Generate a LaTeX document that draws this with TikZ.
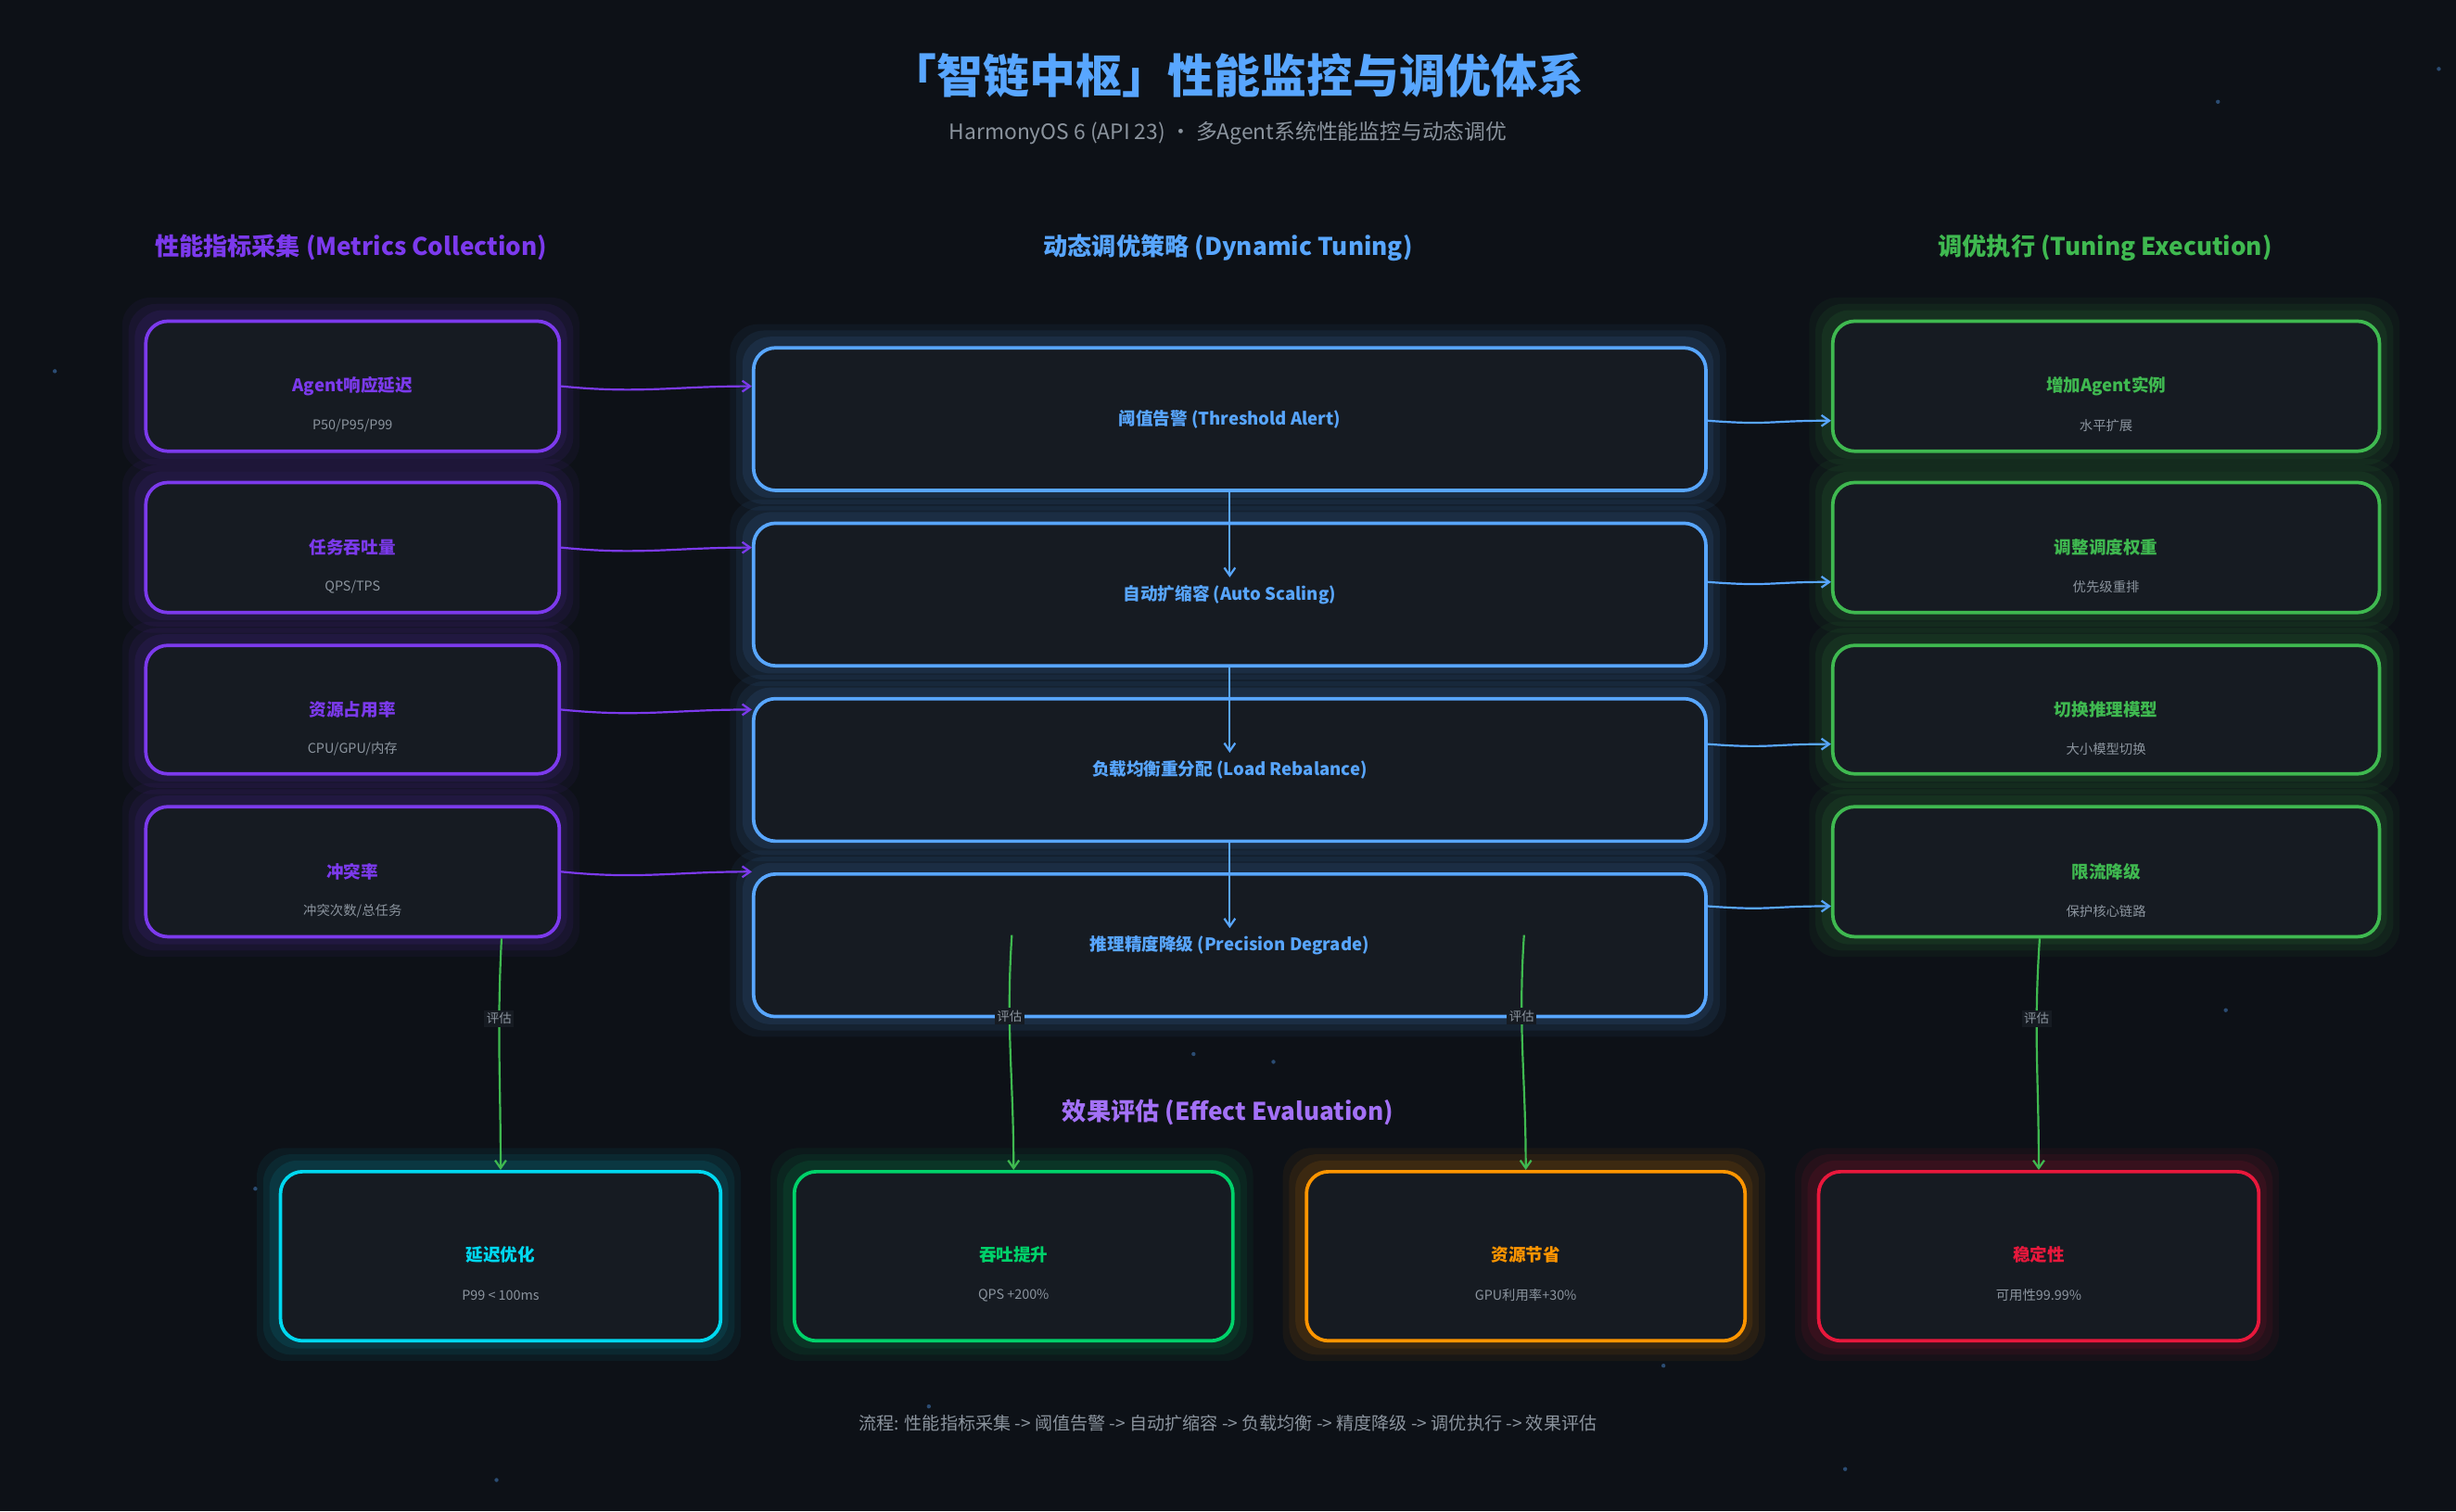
\documentclass[tikz,border=0pt]{standalone}
\usepackage{fontspec}
\setmainfont{Noto Sans CJK SC}
\usetikzlibrary{arrows.meta}
\definecolor{bg}{HTML}{0D1117}
\definecolor{boxbg}{HTML}{161B22}
\definecolor{cpur}{HTML}{7C3AED}
\definecolor{cpurl}{HTML}{A371F7}
\definecolor{cblue}{HTML}{58A6FF}
\definecolor{cgreen}{HTML}{3FB950}
\definecolor{ccyan}{HTML}{00D8F0}
\definecolor{cgr2}{HTML}{00D26A}
\definecolor{corange}{HTML}{FF9500}
\definecolor{cred}{HTML}{E8183C}
\definecolor{cgray}{HTML}{8B949E}
\tikzset{
  card/.style={draw=#1, line width=2.2pt, rounded corners=14pt, fill=boxbg},
  ttl/.style={font=\bfseries\fontsize{11}{13}\selectfont, text=#1},
  sub/.style={font=\fontsize{8.5}{10}\selectfont, text=cgray},
  hdr/.style={font=\bfseries\fontsize{15.5}{18}\selectfont, text=#1},
  arr/.style={draw=#1, line width=1.3pt, -{Straight Barb[length=5pt,width=7pt]}},
  lab/.style={font=\fontsize{8}{9}\selectfont, text=cgray, fill=boxbg, inner sep=1.5pt},
}
\newcommand{\glowbox}[6]{% name, color, x1,y1,x2,y2
  \foreach \o/\op in {14/0.05,10/0.07,6/0.09}{
    \fill[#2, opacity=\op, rounded corners=18pt] (#3-\o,#4-\o) rectangle (#5+\o,#6+\o);}
  \node[card=#2, minimum width=#5-#3, minimum height=#6-#4, anchor=north west, inner sep=0pt] (#1) at (#3,#4) {};
}
\begin{document}
\begin{tikzpicture}[x=1pt,y=-1pt]
\fill[bg] (0,0) rectangle (1568,965);
\useasboundingbox (0,0) rectangle (1568,965);
% stars
\foreach \sx/\sy in {35/237,1416/65,1557/44,685/364,1046/376,1290/233,1398/468,1057/636,762/673,813/678,240/777,163/759,931/802,1328/790,1062/872,593/898,317/945,1178/938,1421/645}{
  \fill[cblue, opacity=0.4] (\sx,\sy) circle (1.3pt);}
% titles
\node[font=\bfseries\fontsize{29.5}{32}\selectfont, text=cblue] (title) at (790,48) {「智链中枢」性能监控与调优体系};
\node[font=\fontsize{13.5}{15}\selectfont, text=cgray] (subt) at (784,85) {HarmonyOS 6 (API 23) · 多Agent系统性能监控与动态调优};
\node[hdr=cpur] (h1) at (224,158) {性能指标采集 (Metrics Collection)};
\node[hdr=cblue] (h2) at (784,158) {动态调优策略 (Dynamic Tuning)};
\node[hdr=cgreen] (h3) at (1344,158) {调优执行 (Tuning Execution)};
\node[hdr=cpurl] (h4) at (784,710) {效果评估 (Effect Evaluation)};
\node[font=\fontsize{11.3}{13}\selectfont, text=cgray] (foot) at (784,909) {流程: 性能指标采集 -> 阈值告警 -> 自动扩缩容 -> 负载均衡 -> 精度降级 -> 调优执行 -> 效果评估};
% left
\glowbox{L1}{cpur}{92}{204}{356}{287}
\glowbox{L2}{cpur}{92}{307}{356}{390}
\glowbox{L3}{cpur}{92}{411}{356}{493}
\glowbox{L4}{cpur}{92}{514}{356}{597}
% mid
\glowbox{M1}{cblue}{480}{221}{1088}{312}
\glowbox{M2}{cblue}{480}{333}{1088}{424}
\glowbox{M3}{cblue}{480}{445}{1088}{536}
\glowbox{M4}{cblue}{480}{557}{1088}{648}
% right
\glowbox{R1}{cgreen}{1169}{204}{1518}{287}
\glowbox{R2}{cgreen}{1169}{307}{1518}{390}
\glowbox{R3}{cgreen}{1169}{411}{1518}{493}
\glowbox{R4}{cgreen}{1169}{514}{1518}{597}
% bottom
\glowbox{B1}{ccyan}{178}{747}{459}{855}
\glowbox{B2}{cgr2}{506}{747}{786}{855}
\glowbox{B3}{corange}{833}{747}{1113}{855}
\glowbox{B4}{cred}{1160}{747}{1441}{855}
% texts
\foreach \n/\t/\s in {L1/Agent响应延迟/P50\slash P95\slash P99, L2/任务吞吐量/QPS\slash TPS, L3/资源占用率/CPU\slash GPU\slash 内存, L4/冲突率/冲突次数\slash 总任务}{
  \node[ttl=cpur] (\n t) at (\n.center) {\t};
  \node[sub] (\n s) at ([yshift=-25]\n.center) {\s};}
\foreach \n/\t/\s in {R1/增加Agent实例/水平扩展, R2/调整调度权重/优先级重排, R3/切换推理模型/大小模型切换, R4/限流降级/保护核心链路}{
  \node[ttl=cgreen] (\n t) at (\n.center) {\t};
  \node[sub] (\n s) at ([yshift=-25]\n.center) {\s};}
\foreach \n/\t in {M1/阈值告警 (Threshold Alert), M2/自动扩缩容 (Auto Scaling), M3/负载均衡重分配 (Load Rebalance), M4/推理精度降级 (Precision Degrade)}{
  \node[ttl=cblue] (\n t) at (\n.center) {\t};}
\foreach \n/\t/\s/\c in {B1/延迟优化/P99 < 100ms/ccyan, B2/吞吐提升/QPS +200\%/cgr2, B3/资源节省/GPU利用率+30\%/corange, B4/稳定性/可用性99.99\%/cred}{
  \node[ttl=\c] (\n t) at ([yshift=1]\n.center) {\t};
  \node[sub] (\n s) at ([yshift=-25]\n.center) {\s};}
% left -> mid
\foreach \a/\b in {L1/M1,L2/M2,L3/M3,L4/M4}{
  \draw[arr=cpur] (\a.east) .. controls +(50,5) and +(-50,0) .. (\b.west |- \a.east);}
% mid -> right
\foreach \a/\b in {M1/R1,M2/R2,M3/R3,M4/R4}{
  \draw[arr=cblue] ([yshift=-22]\a.east |- \b.west) .. controls +(40,3) and +(-40,0) .. ([yshift=-22]\b.west);}
% mid vertical
\foreach \a/\b in {M1/M2,M2/M3,M3/M4}{
  \draw[arr=cblue] (\a.south) .. controls +(0,25) .. ([yshift=11]\b.center);}
% evaluation
\coordinate (e2) at (646,597);
\coordinate (e3) at (973,597);
\draw[arr=cgreen] ([xshift=-38]L4.south east) .. controls +(-3,60) and +(0,-60) .. (B1.north) node[lab, pos=0.33] {评估};
\draw[arr=cgreen] (e2) .. controls +(-4,60) and +(0,-60) .. (B2.north) node[lab, pos=0.33] {评估};
\draw[arr=cgreen] (e3) .. controls +(-4,60) and +(0,-60) .. (B3.north) node[lab, pos=0.33] {评估};
\draw[arr=cgreen] ([xshift=-218]R4.south east) .. controls +(-4,60) and +(0,-60) .. (B4.north) node[lab, pos=0.33] {评估};
\end{tikzpicture}
\end{document}
